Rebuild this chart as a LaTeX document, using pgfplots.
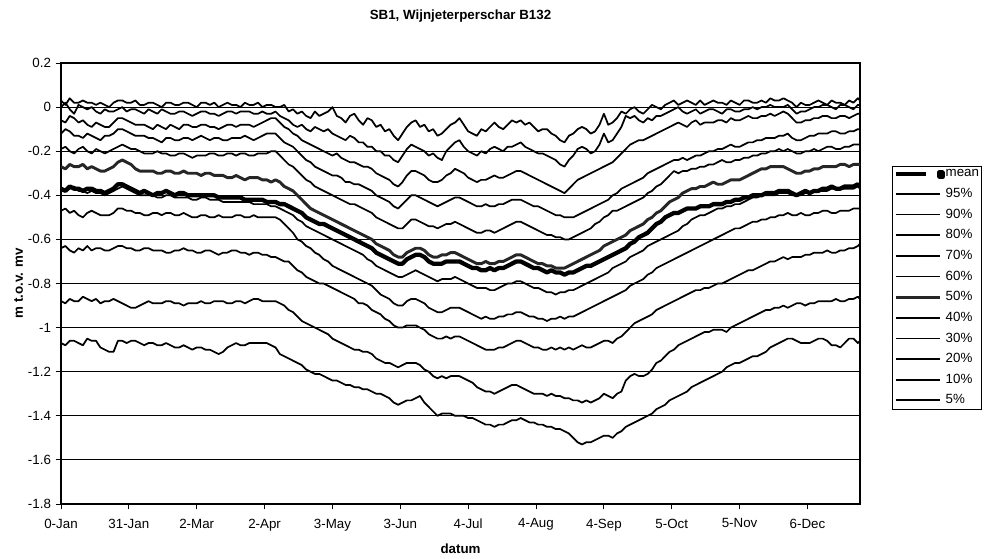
\documentclass[border=0pt]{standalone}
\usepackage{pgfplots}
\pgfplotsset{compat=1.18}
\usepackage{pgfplotstable}
\usepackage{fontspec}
\setmainfont{Liberation Sans}

% Groundwater level percentiles (m below surface) through the year, every 2 days
\pgfplotstableread{
day p95 p90 p80 p70 p60 p50 mean p40 p30 p20 p10 p5
0 0.03 0.00 -0.06 -0.12 -0.19 -0.27 -0.37 -0.38 -0.47 -0.64 -0.88 -1.07
2 0.01 0.02 -0.07 -0.10 -0.18 -0.28 -0.38 -0.38 -0.46 -0.63 -0.89 -1.08
4 0.04 -0.01 -0.04 -0.11 -0.20 -0.26 -0.36 -0.37 -0.48 -0.65 -0.87 -1.06
6 0.02 -0.03 -0.05 -0.13 -0.21 -0.27 -0.37 -0.36 -0.47 -0.66 -0.88 -1.06
8 0.02 0.01 -0.07 -0.13 -0.19 -0.27 -0.37 -0.38 -0.49 -0.64 -0.88 -1.07
10 0.03 0.00 -0.06 -0.14 -0.18 -0.26 -0.38 -0.38 -0.50 -0.65 -0.86 -1.08
12 0.02 -0.01 -0.08 -0.12 -0.20 -0.28 -0.37 -0.39 -0.48 -0.63 -0.87 -1.05
14 0.02 0.00 -0.09 -0.13 -0.21 -0.27 -0.37 -0.38 -0.47 -0.65 -0.88 -1.06
16 0.01 -0.02 -0.07 -0.14 -0.19 -0.28 -0.38 -0.39 -0.48 -0.64 -0.87 -1.06
18 0.02 -0.03 -0.08 -0.15 -0.20 -0.29 -0.38 -0.39 -0.49 -0.64 -0.89 -1.09
20 0.01 -0.01 -0.09 -0.13 -0.21 -0.29 -0.39 -0.40 -0.49 -0.65 -0.88 -1.10
22 0.00 -0.02 -0.09 -0.13 -0.20 -0.28 -0.38 -0.39 -0.49 -0.65 -0.88 -1.11
24 0.02 -0.02 -0.07 -0.12 -0.19 -0.27 -0.37 -0.38 -0.48 -0.64 -0.87 -1.11
26 0.03 -0.01 -0.05 -0.10 -0.18 -0.25 -0.35 -0.37 -0.46 -0.63 -0.88 -1.06
28 0.03 0.00 -0.05 -0.10 -0.17 -0.24 -0.35 -0.36 -0.46 -0.63 -0.89 -1.06
30 0.02 -0.02 -0.06 -0.11 -0.18 -0.25 -0.36 -0.37 -0.47 -0.64 -0.90 -1.07
32 0.02 -0.01 -0.07 -0.12 -0.19 -0.26 -0.37 -0.38 -0.47 -0.64 -0.91 -1.06
34 0.03 -0.01 -0.08 -0.13 -0.19 -0.28 -0.38 -0.39 -0.48 -0.65 -0.91 -1.06
36 0.01 -0.02 -0.08 -0.13 -0.20 -0.29 -0.39 -0.40 -0.48 -0.65 -0.90 -1.07
38 0.01 -0.03 -0.08 -0.13 -0.21 -0.29 -0.38 -0.40 -0.49 -0.64 -0.89 -1.08
40 0.02 -0.01 -0.09 -0.14 -0.21 -0.29 -0.39 -0.40 -0.49 -0.64 -0.88 -1.07
42 0.02 -0.02 -0.10 -0.14 -0.21 -0.29 -0.40 -0.40 -0.48 -0.65 -0.89 -1.07
44 0.01 -0.03 -0.08 -0.15 -0.20 -0.30 -0.39 -0.41 -0.48 -0.65 -0.89 -1.08
46 0.00 -0.01 -0.09 -0.16 -0.21 -0.30 -0.39 -0.41 -0.49 -0.65 -0.89 -1.08
48 0.02 -0.02 -0.10 -0.14 -0.21 -0.29 -0.38 -0.40 -0.48 -0.66 -0.88 -1.07
50 0.02 -0.03 -0.08 -0.14 -0.22 -0.29 -0.39 -0.40 -0.48 -0.66 -0.88 -1.08
52 0.01 -0.03 -0.09 -0.15 -0.22 -0.30 -0.40 -0.41 -0.49 -0.65 -0.89 -1.09
54 0.01 -0.02 -0.10 -0.15 -0.21 -0.30 -0.39 -0.41 -0.49 -0.65 -0.89 -1.09
56 0.02 -0.02 -0.08 -0.14 -0.21 -0.29 -0.39 -0.41 -0.48 -0.64 -0.90 -1.08
58 0.02 -0.03 -0.08 -0.14 -0.22 -0.30 -0.40 -0.41 -0.49 -0.65 -0.89 -1.09
60 0.01 -0.04 -0.09 -0.15 -0.23 -0.30 -0.40 -0.42 -0.50 -0.65 -0.89 -1.10
62 0.00 -0.03 -0.09 -0.14 -0.22 -0.30 -0.40 -0.42 -0.50 -0.66 -0.89 -1.09
64 0.02 -0.02 -0.08 -0.13 -0.22 -0.31 -0.40 -0.41 -0.49 -0.66 -0.88 -1.09
66 0.02 -0.02 -0.08 -0.14 -0.22 -0.30 -0.40 -0.41 -0.49 -0.65 -0.89 -1.10
68 0.01 -0.03 -0.09 -0.15 -0.21 -0.30 -0.40 -0.42 -0.50 -0.65 -0.89 -1.10
70 0.02 -0.03 -0.09 -0.14 -0.21 -0.31 -0.40 -0.42 -0.50 -0.66 -0.88 -1.11
72 0.00 -0.04 -0.10 -0.14 -0.22 -0.31 -0.41 -0.42 -0.49 -0.67 -0.88 -1.12
74 0.01 -0.03 -0.09 -0.15 -0.22 -0.31 -0.41 -0.43 -0.50 -0.66 -0.88 -1.11
76 0.02 -0.02 -0.08 -0.15 -0.21 -0.32 -0.41 -0.43 -0.50 -0.66 -0.89 -1.09
78 0.01 -0.02 -0.08 -0.14 -0.21 -0.32 -0.41 -0.43 -0.50 -0.65 -0.89 -1.08
80 0.01 -0.03 -0.09 -0.14 -0.22 -0.31 -0.41 -0.43 -0.49 -0.65 -0.88 -1.07
82 0.00 -0.02 -0.08 -0.14 -0.21 -0.32 -0.41 -0.43 -0.49 -0.66 -0.88 -1.08
84 0.02 -0.02 -0.08 -0.13 -0.21 -0.33 -0.42 -0.43 -0.50 -0.66 -0.89 -1.08
86 0.01 -0.02 -0.08 -0.14 -0.22 -0.32 -0.42 -0.43 -0.50 -0.67 -0.88 -1.07
88 0.01 -0.03 -0.09 -0.15 -0.22 -0.32 -0.42 -0.44 -0.49 -0.66 -0.87 -1.07
90 0.02 -0.03 -0.08 -0.14 -0.21 -0.32 -0.42 -0.44 -0.50 -0.66 -0.87 -1.07
92 0.00 -0.02 -0.07 -0.13 -0.21 -0.33 -0.42 -0.44 -0.50 -0.67 -0.88 -1.07
94 0.01 -0.03 -0.06 -0.12 -0.21 -0.33 -0.43 -0.44 -0.50 -0.67 -0.88 -1.07
96 0.01 -0.03 -0.05 -0.12 -0.20 -0.34 -0.43 -0.45 -0.50 -0.68 -0.88 -1.08
98 0.00 -0.02 -0.05 -0.12 -0.20 -0.33 -0.43 -0.45 -0.50 -0.68 -0.88 -1.09
100 0.00 -0.04 -0.07 -0.14 -0.22 -0.34 -0.44 -0.46 -0.51 -0.69 -0.89 -1.12
102 0.01 -0.05 -0.09 -0.16 -0.24 -0.36 -0.44 -0.47 -0.53 -0.70 -0.90 -1.13
104 -0.02 -0.06 -0.10 -0.17 -0.26 -0.37 -0.45 -0.48 -0.55 -0.70 -0.92 -1.14
106 -0.01 -0.08 -0.12 -0.18 -0.27 -0.38 -0.46 -0.49 -0.57 -0.72 -0.93 -1.15
108 -0.03 -0.09 -0.13 -0.20 -0.29 -0.40 -0.47 -0.51 -0.60 -0.74 -0.95 -1.16
110 -0.02 -0.08 -0.15 -0.22 -0.31 -0.42 -0.48 -0.52 -0.61 -0.75 -0.97 -1.17
112 -0.04 -0.10 -0.16 -0.24 -0.33 -0.44 -0.50 -0.54 -0.63 -0.77 -0.98 -1.19
114 -0.05 -0.11 -0.17 -0.25 -0.34 -0.46 -0.51 -0.55 -0.64 -0.78 -0.99 -1.20
116 -0.02 -0.09 -0.18 -0.27 -0.36 -0.47 -0.52 -0.56 -0.66 -0.79 -1.00 -1.21
118 -0.04 -0.10 -0.19 -0.28 -0.37 -0.48 -0.53 -0.57 -0.67 -0.80 -1.01 -1.21
120 -0.03 -0.11 -0.20 -0.29 -0.38 -0.49 -0.53 -0.58 -0.69 -0.80 -1.02 -1.22
122 -0.02 -0.10 -0.21 -0.30 -0.39 -0.50 -0.54 -0.59 -0.70 -0.81 -1.03 -1.23
124 0.00 -0.12 -0.22 -0.31 -0.40 -0.51 -0.55 -0.60 -0.72 -0.82 -1.05 -1.24
126 -0.04 -0.13 -0.21 -0.31 -0.41 -0.52 -0.56 -0.61 -0.73 -0.83 -1.06 -1.24
128 -0.05 -0.14 -0.23 -0.32 -0.42 -0.53 -0.57 -0.62 -0.74 -0.84 -1.07 -1.25
130 -0.07 -0.15 -0.24 -0.34 -0.43 -0.54 -0.58 -0.63 -0.75 -0.85 -1.08 -1.26
132 -0.04 -0.13 -0.25 -0.34 -0.44 -0.55 -0.59 -0.64 -0.76 -0.86 -1.09 -1.26
134 -0.03 -0.14 -0.25 -0.35 -0.44 -0.56 -0.60 -0.65 -0.77 -0.87 -1.10 -1.27
136 -0.06 -0.16 -0.26 -0.35 -0.45 -0.57 -0.61 -0.66 -0.78 -0.89 -1.10 -1.27
138 -0.08 -0.16 -0.27 -0.36 -0.46 -0.58 -0.62 -0.67 -0.79 -0.89 -1.11 -1.28
140 -0.05 -0.18 -0.27 -0.37 -0.47 -0.59 -0.63 -0.69 -0.80 -0.90 -1.11 -1.28
142 -0.06 -0.18 -0.28 -0.38 -0.48 -0.60 -0.64 -0.70 -0.81 -0.92 -1.12 -1.29
144 -0.09 -0.20 -0.30 -0.40 -0.50 -0.62 -0.66 -0.72 -0.83 -0.93 -1.14 -1.30
146 -0.08 -0.20 -0.31 -0.41 -0.51 -0.63 -0.67 -0.73 -0.85 -0.94 -1.15 -1.30
148 -0.11 -0.22 -0.32 -0.42 -0.52 -0.64 -0.68 -0.74 -0.86 -0.96 -1.16 -1.31
150 -0.10 -0.22 -0.33 -0.43 -0.53 -0.65 -0.69 -0.75 -0.87 -0.97 -1.16 -1.32
152 -0.13 -0.24 -0.35 -0.45 -0.54 -0.67 -0.70 -0.76 -0.89 -0.99 -1.17 -1.34
154 -0.15 -0.25 -0.36 -0.46 -0.55 -0.68 -0.71 -0.77 -0.90 -1.00 -1.18 -1.35
156 -0.12 -0.22 -0.34 -0.44 -0.55 -0.68 -0.71 -0.77 -0.90 -1.00 -1.17 -1.34
158 -0.09 -0.19 -0.31 -0.42 -0.53 -0.66 -0.69 -0.76 -0.88 -0.99 -1.16 -1.33
160 -0.07 -0.17 -0.29 -0.40 -0.51 -0.65 -0.68 -0.75 -0.87 -0.99 -1.16 -1.33
162 -0.06 -0.18 -0.29 -0.40 -0.51 -0.64 -0.67 -0.74 -0.87 -0.99 -1.16 -1.32
164 -0.09 -0.19 -0.30 -0.41 -0.52 -0.64 -0.67 -0.75 -0.88 -1.00 -1.17 -1.31
166 -0.08 -0.20 -0.31 -0.42 -0.53 -0.65 -0.68 -0.76 -0.89 -1.01 -1.19 -1.34
168 -0.11 -0.22 -0.33 -0.43 -0.54 -0.67 -0.70 -0.77 -0.91 -1.03 -1.20 -1.36
170 -0.10 -0.21 -0.34 -0.44 -0.54 -0.68 -0.71 -0.78 -0.92 -1.04 -1.22 -1.38
172 -0.13 -0.23 -0.34 -0.45 -0.55 -0.68 -0.71 -0.79 -0.93 -1.05 -1.23 -1.40
174 -0.12 -0.24 -0.33 -0.44 -0.54 -0.67 -0.71 -0.78 -0.93 -1.05 -1.22 -1.39
176 -0.10 -0.20 -0.31 -0.43 -0.53 -0.67 -0.70 -0.78 -0.92 -1.04 -1.23 -1.39
178 -0.08 -0.18 -0.30 -0.42 -0.53 -0.66 -0.70 -0.78 -0.91 -1.05 -1.22 -1.39
180 -0.07 -0.16 -0.28 -0.41 -0.52 -0.66 -0.70 -0.77 -0.91 -1.04 -1.22 -1.40
182 -0.05 -0.15 -0.29 -0.41 -0.53 -0.67 -0.70 -0.78 -0.91 -1.04 -1.22 -1.40
184 -0.08 -0.18 -0.30 -0.42 -0.54 -0.68 -0.71 -0.79 -0.92 -1.05 -1.23 -1.40
186 -0.11 -0.20 -0.32 -0.43 -0.55 -0.69 -0.72 -0.80 -0.93 -1.06 -1.24 -1.41
188 -0.12 -0.21 -0.33 -0.44 -0.56 -0.70 -0.73 -0.81 -0.94 -1.07 -1.25 -1.41
190 -0.13 -0.22 -0.34 -0.45 -0.57 -0.71 -0.73 -0.82 -0.95 -1.08 -1.27 -1.42
192 -0.10 -0.20 -0.33 -0.45 -0.57 -0.71 -0.74 -0.82 -0.96 -1.09 -1.28 -1.43
194 -0.11 -0.21 -0.33 -0.44 -0.56 -0.70 -0.74 -0.82 -0.95 -1.10 -1.29 -1.44
196 -0.09 -0.19 -0.32 -0.45 -0.56 -0.71 -0.73 -0.83 -0.96 -1.10 -1.29 -1.44
198 -0.07 -0.18 -0.31 -0.45 -0.57 -0.71 -0.74 -0.83 -0.96 -1.10 -1.30 -1.45
200 -0.09 -0.19 -0.32 -0.44 -0.56 -0.70 -0.73 -0.82 -0.95 -1.09 -1.29 -1.44
202 -0.10 -0.20 -0.32 -0.44 -0.55 -0.70 -0.73 -0.81 -0.95 -1.09 -1.28 -1.44
204 -0.08 -0.18 -0.31 -0.43 -0.54 -0.69 -0.72 -0.80 -0.94 -1.08 -1.27 -1.43
206 -0.06 -0.18 -0.30 -0.42 -0.53 -0.68 -0.71 -0.80 -0.94 -1.07 -1.26 -1.42
208 -0.07 -0.17 -0.29 -0.42 -0.52 -0.67 -0.70 -0.79 -0.93 -1.06 -1.26 -1.42
210 -0.06 -0.16 -0.29 -0.42 -0.52 -0.67 -0.70 -0.79 -0.93 -1.06 -1.27 -1.41
212 -0.08 -0.18 -0.30 -0.43 -0.53 -0.68 -0.71 -0.80 -0.94 -1.07 -1.28 -1.42
214 -0.07 -0.19 -0.31 -0.44 -0.54 -0.69 -0.72 -0.81 -0.95 -1.08 -1.29 -1.43
216 -0.09 -0.20 -0.32 -0.45 -0.55 -0.70 -0.73 -0.82 -0.95 -1.09 -1.30 -1.43
218 -0.11 -0.21 -0.33 -0.45 -0.56 -0.71 -0.73 -0.82 -0.96 -1.09 -1.30 -1.44
220 -0.10 -0.21 -0.34 -0.46 -0.57 -0.71 -0.74 -0.83 -0.96 -1.10 -1.30 -1.44
222 -0.10 -0.22 -0.35 -0.47 -0.58 -0.72 -0.75 -0.84 -0.97 -1.10 -1.31 -1.45
224 -0.12 -0.23 -0.36 -0.48 -0.58 -0.72 -0.74 -0.84 -0.96 -1.09 -1.30 -1.45
226 -0.13 -0.24 -0.37 -0.49 -0.59 -0.73 -0.75 -0.85 -0.96 -1.10 -1.31 -1.46
228 -0.15 -0.26 -0.38 -0.49 -0.59 -0.73 -0.75 -0.84 -0.95 -1.09 -1.31 -1.46
230 -0.16 -0.27 -0.39 -0.50 -0.60 -0.73 -0.76 -0.84 -0.96 -1.10 -1.32 -1.47
232 -0.13 -0.24 -0.37 -0.50 -0.60 -0.72 -0.75 -0.83 -0.95 -1.09 -1.32 -1.48
234 -0.12 -0.22 -0.35 -0.50 -0.59 -0.71 -0.75 -0.83 -0.95 -1.10 -1.33 -1.50
236 -0.10 -0.19 -0.33 -0.49 -0.58 -0.70 -0.74 -0.82 -0.94 -1.09 -1.33 -1.52
238 -0.09 -0.18 -0.32 -0.48 -0.57 -0.69 -0.73 -0.81 -0.93 -1.08 -1.34 -1.53
240 -0.10 -0.19 -0.31 -0.47 -0.56 -0.68 -0.72 -0.80 -0.92 -1.09 -1.33 -1.52
242 -0.12 -0.21 -0.30 -0.46 -0.55 -0.67 -0.72 -0.79 -0.91 -1.09 -1.34 -1.52
244 -0.11 -0.20 -0.29 -0.45 -0.53 -0.66 -0.71 -0.78 -0.90 -1.08 -1.33 -1.51
246 -0.08 -0.17 -0.28 -0.44 -0.52 -0.65 -0.70 -0.77 -0.89 -1.07 -1.32 -1.50
248 -0.03 -0.12 -0.27 -0.43 -0.50 -0.63 -0.69 -0.76 -0.88 -1.06 -1.30 -1.49
250 -0.08 -0.16 -0.26 -0.42 -0.49 -0.62 -0.68 -0.75 -0.87 -1.06 -1.31 -1.49
252 -0.07 -0.15 -0.25 -0.40 -0.47 -0.61 -0.67 -0.73 -0.86 -1.07 -1.32 -1.50
254 -0.05 -0.12 -0.23 -0.39 -0.47 -0.60 -0.66 -0.72 -0.85 -1.05 -1.30 -1.48
256 -0.02 -0.09 -0.21 -0.37 -0.46 -0.59 -0.65 -0.71 -0.84 -1.04 -1.29 -1.47
258 -0.03 -0.04 -0.19 -0.36 -0.45 -0.58 -0.64 -0.70 -0.83 -1.02 -1.24 -1.45
260 -0.01 -0.05 -0.17 -0.35 -0.44 -0.56 -0.62 -0.68 -0.81 -1.00 -1.22 -1.44
262 0.00 -0.04 -0.16 -0.34 -0.43 -0.55 -0.61 -0.67 -0.80 -0.98 -1.21 -1.43
264 -0.02 -0.06 -0.15 -0.33 -0.42 -0.54 -0.59 -0.66 -0.79 -0.97 -1.22 -1.42
266 -0.03 -0.07 -0.15 -0.32 -0.41 -0.53 -0.58 -0.65 -0.78 -0.96 -1.22 -1.41
268 -0.01 -0.05 -0.14 -0.30 -0.39 -0.51 -0.57 -0.63 -0.76 -0.95 -1.21 -1.40
270 0.01 -0.06 -0.13 -0.29 -0.38 -0.50 -0.55 -0.62 -0.75 -0.94 -1.19 -1.39
272 0.00 -0.04 -0.12 -0.28 -0.36 -0.48 -0.53 -0.61 -0.73 -0.92 -1.16 -1.37
274 -0.01 -0.04 -0.11 -0.27 -0.35 -0.47 -0.52 -0.60 -0.72 -0.91 -1.15 -1.36
276 0.01 -0.03 -0.10 -0.26 -0.33 -0.45 -0.50 -0.59 -0.71 -0.90 -1.13 -1.35
278 0.02 -0.02 -0.09 -0.25 -0.31 -0.43 -0.49 -0.58 -0.70 -0.89 -1.11 -1.33
280 0.03 -0.01 -0.08 -0.24 -0.29 -0.42 -0.48 -0.57 -0.69 -0.88 -1.10 -1.32
282 0.01 0.00 -0.07 -0.24 -0.30 -0.41 -0.48 -0.56 -0.68 -0.87 -1.08 -1.31
284 0.02 -0.02 -0.08 -0.23 -0.29 -0.39 -0.47 -0.54 -0.67 -0.86 -1.07 -1.30
286 0.03 -0.03 -0.09 -0.24 -0.29 -0.38 -0.46 -0.53 -0.66 -0.85 -1.06 -1.29
288 0.02 -0.02 -0.07 -0.23 -0.28 -0.37 -0.46 -0.51 -0.65 -0.84 -1.05 -1.27
290 0.01 -0.01 -0.06 -0.22 -0.28 -0.37 -0.46 -0.50 -0.64 -0.83 -1.04 -1.26
292 0.03 -0.03 -0.08 -0.22 -0.27 -0.36 -0.45 -0.49 -0.63 -0.83 -1.03 -1.25
294 0.01 -0.02 -0.07 -0.21 -0.27 -0.36 -0.45 -0.49 -0.62 -0.82 -1.02 -1.24
296 0.02 -0.01 -0.07 -0.20 -0.26 -0.35 -0.45 -0.48 -0.61 -0.82 -1.02 -1.23
298 0.03 -0.01 -0.07 -0.20 -0.26 -0.34 -0.44 -0.47 -0.60 -0.81 -1.01 -1.22
300 0.02 -0.02 -0.06 -0.19 -0.25 -0.35 -0.44 -0.46 -0.59 -0.80 -1.01 -1.21
302 0.02 -0.03 -0.06 -0.19 -0.24 -0.35 -0.44 -0.46 -0.58 -0.80 -1.01 -1.20
304 0.01 -0.01 -0.07 -0.18 -0.25 -0.34 -0.43 -0.45 -0.57 -0.79 -1.02 -1.18
306 0.03 -0.01 -0.05 -0.17 -0.25 -0.33 -0.43 -0.45 -0.56 -0.78 -1.00 -1.17
308 0.02 -0.02 -0.06 -0.18 -0.24 -0.33 -0.42 -0.44 -0.55 -0.77 -0.99 -1.16
310 0.01 -0.02 -0.06 -0.18 -0.24 -0.33 -0.42 -0.44 -0.55 -0.76 -0.98 -1.16
312 0.03 -0.01 -0.05 -0.17 -0.23 -0.32 -0.41 -0.43 -0.54 -0.75 -0.97 -1.15
314 0.03 -0.01 -0.04 -0.16 -0.23 -0.31 -0.41 -0.42 -0.53 -0.74 -0.96 -1.14
316 0.02 0.00 -0.05 -0.16 -0.22 -0.30 -0.40 -0.41 -0.52 -0.74 -0.95 -1.13
318 0.02 -0.01 -0.05 -0.15 -0.22 -0.29 -0.40 -0.41 -0.52 -0.73 -0.94 -1.13
320 0.03 0.00 -0.04 -0.15 -0.21 -0.28 -0.40 -0.40 -0.51 -0.72 -0.93 -1.12
322 0.02 0.00 -0.04 -0.14 -0.21 -0.28 -0.39 -0.40 -0.51 -0.71 -0.92 -1.11
324 0.04 0.01 -0.03 -0.14 -0.20 -0.27 -0.39 -0.40 -0.50 -0.70 -0.92 -1.09
326 0.03 0.00 -0.04 -0.14 -0.20 -0.27 -0.39 -0.40 -0.50 -0.70 -0.91 -1.08
328 0.03 0.00 -0.03 -0.13 -0.19 -0.27 -0.38 -0.39 -0.49 -0.69 -0.91 -1.07
330 0.04 0.00 -0.02 -0.13 -0.20 -0.27 -0.38 -0.39 -0.49 -0.68 -0.90 -1.06
332 0.03 0.01 -0.03 -0.12 -0.19 -0.28 -0.38 -0.39 -0.48 -0.69 -0.91 -1.05
334 0.02 -0.01 -0.05 -0.14 -0.20 -0.29 -0.39 -0.40 -0.49 -0.68 -0.90 -1.05
336 0.00 -0.03 -0.07 -0.15 -0.21 -0.30 -0.40 -0.40 -0.49 -0.68 -0.89 -1.06
338 0.02 -0.02 -0.07 -0.15 -0.21 -0.30 -0.39 -0.40 -0.48 -0.68 -0.89 -1.07
340 0.01 -0.02 -0.06 -0.14 -0.20 -0.29 -0.38 -0.39 -0.49 -0.67 -0.90 -1.07
342 0.01 -0.01 -0.06 -0.13 -0.20 -0.29 -0.39 -0.39 -0.49 -0.67 -0.89 -1.07
344 0.02 0.00 -0.05 -0.13 -0.19 -0.28 -0.38 -0.38 -0.48 -0.66 -0.89 -1.06
346 0.03 0.00 -0.05 -0.12 -0.20 -0.28 -0.38 -0.38 -0.48 -0.66 -0.88 -1.05
348 0.02 0.01 -0.04 -0.12 -0.19 -0.27 -0.37 -0.38 -0.47 -0.66 -0.88 -1.05
350 0.01 0.01 -0.04 -0.12 -0.18 -0.27 -0.37 -0.38 -0.47 -0.65 -0.88 -1.06
352 0.03 0.00 -0.05 -0.11 -0.18 -0.27 -0.36 -0.37 -0.48 -0.66 -0.88 -1.08
354 0.02 -0.01 -0.05 -0.11 -0.19 -0.27 -0.37 -0.37 -0.48 -0.66 -0.87 -1.08
356 0.02 0.01 -0.04 -0.12 -0.19 -0.26 -0.37 -0.37 -0.47 -0.65 -0.88 -1.09
358 0.01 0.01 -0.04 -0.12 -0.18 -0.26 -0.36 -0.37 -0.47 -0.65 -0.88 -1.07
360 0.03 0.00 -0.05 -0.11 -0.18 -0.27 -0.36 -0.37 -0.47 -0.64 -0.87 -1.05
362 0.02 -0.01 -0.04 -0.11 -0.17 -0.26 -0.36 -0.37 -0.46 -0.64 -0.87 -1.05
364 0.04 0.01 -0.03 -0.10 -0.17 -0.26 -0.35 -0.36 -0.46 -0.63 -0.86 -1.07
365 0.03 0.01 -0.03 -0.10 -0.17 -0.26 -0.36 -0.37 -0.46 -0.62 -0.87 -1.06
}\levels

\begin{document}
\begin{tikzpicture}
\useasboundingbox (-45.75pt,-40.5pt) rectangle (692.25pt,378pt);
\begin{axis}[
  scale only axis,
  width=599.25pt, height=330.75pt,
  xmin=0, xmax=365, ymin=-1.8, ymax=0.2,
  font=\fontsize{10}{12}\selectfont,
  axis line style={line width=1.5pt},
  tick pos=left, tick align=outside,
  major tick length=4pt,
  tick style={black, line width=0.75pt},
  xtick={0,31,62,93,124,155,186,217,248,279,310,341},
  xticklabels={0-Jan,31-Jan,2-Mar,2-Apr,3-May,3-Jun,4-Jul,4-Aug,4-Sep,5-Oct,5-Nov,6-Dec},
  xticklabel style={yshift=-3.5pt},
  ytick={-1.8,-1.6,-1.4,-1.2,-1,-0.8,-0.6,-0.4,-0.2,0,0.2},
  yticklabels={-1.8,-1.6,-1.4,-1.2,-1,-0.8,-0.6,-0.4,-0.2,0,0.2},
  ymajorgrids=true,
  major grid style={black, line width=0.8pt},
  title={\bfseries SB1, Wijnjeterperschar B132},
  title style={at={(axis description cs:0.5,1.08)}, anchor=base},
  xlabel={\bfseries datum},
  x label style={at={(axis description cs:0.5,-0.1111)}, anchor=base},
  ylabel={\bfseries m t.o.v. mv},
  y label style={at={(axis description cs:-0.0476,0.5)}, anchor=base, rotate=0},
  legend style={at={(1.0398,0.7664)}, anchor=north west, draw=black, line width=0.6pt,
    font=\fontsize{10}{12}\selectfont, row sep=6pt, inner xsep=1pt, inner ysep=2pt,
    nodes={inner sep=0.5pt}, cells={anchor=west},
    /tikz/every even column/.append style={column sep=0pt}},
  legend cell align=left,
  legend image code/.code={\draw[#1] (0pt,0pt) -- (33pt,0pt);},
  every axis plot/.append style={line join=round},
]
\addplot[black, line width=3.2pt, legend image code/.code={%
  \draw[line width=3pt] (0pt,0pt) -- (22.5pt,0pt);
  \fill (33pt,-1.6pt) rectangle (35.5pt,1.6pt);}] table[x=day,y=mean] {\levels};
\addlegendentry{mean}
\addplot[black, line width=1.3pt] table[x=day,y=p95] {\levels};
\addlegendentry{95\%}
\addplot[black, line width=1.3pt] table[x=day,y=p90] {\levels};
\addlegendentry{90\%}
\addplot[black, line width=1.3pt] table[x=day,y=p80] {\levels};
\addlegendentry{80\%}
\addplot[black, line width=1.3pt] table[x=day,y=p70] {\levels};
\addlegendentry{70\%}
\addplot[black, line width=1.3pt] table[x=day,y=p60] {\levels};
\addlegendentry{60\%}
\addplot[black!85, line width=2.2pt] table[x=day,y=p50] {\levels};
\addlegendentry{50\%}
\addplot[black, line width=1.3pt] table[x=day,y=p40] {\levels};
\addlegendentry{40\%}
\addplot[black, line width=1.3pt] table[x=day,y=p30] {\levels};
\addlegendentry{30\%}
\addplot[black, line width=1.3pt] table[x=day,y=p20] {\levels};
\addlegendentry{20\%}
\addplot[black, line width=1.3pt] table[x=day,y=p10] {\levels};
\addlegendentry{10\%}
\addplot[black, line width=1.3pt] table[x=day,y=p5] {\levels};
\addlegendentry{5\%}
\end{axis}
\end{tikzpicture}
\end{document}
